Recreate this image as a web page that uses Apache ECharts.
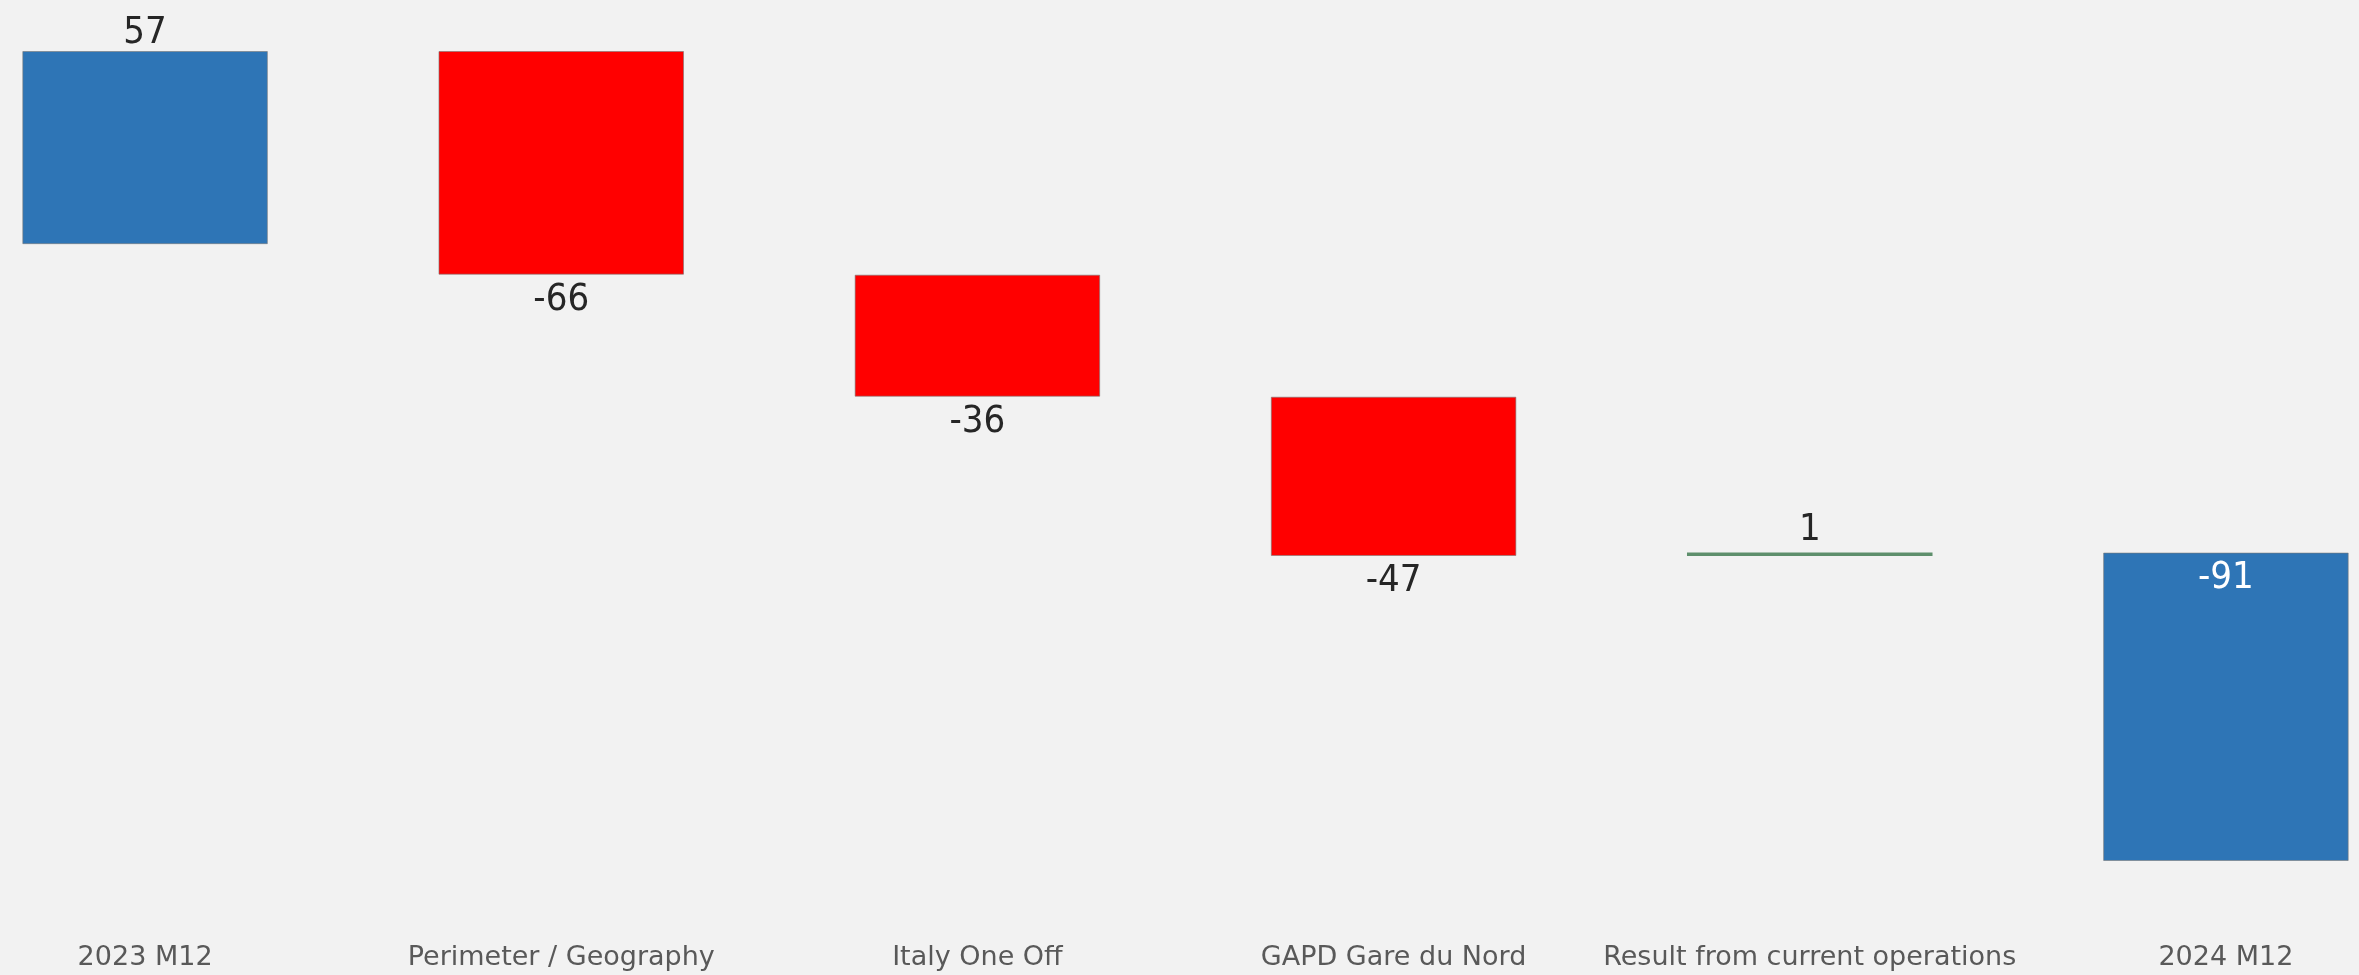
<!DOCTYPE html>
<html>
<head>
<meta charset="utf-8">
<script src="https://cdn.jsdelivr.net/npm/echarts@6/dist/echarts.min.js"></script>
<style>
html,body{margin:0;padding:0;background:#F2F2F2;overflow:hidden;width:2359px;height:975px;position:relative;}
#chart{width:2497px;height:975px;position:absolute;left:-63px;top:0;}
</style>
</head>
<body>
<div id="chart"></div>
<script>
const categories = ['2023 M12', 'Perimeter / Geography', 'Italy One Off', 'GAPD Gare du Nord', 'Result from current operations', '2024 M12'];
const deltas = [57, -66, -36, -47, 1, -91];
const kinds = ['total', 'delta', 'delta', 'delta', 'delta', 'total'];

const COLORS = { total: '#2E75B6', down: '#FF0000', up: '#5E8F6C' };

// running position (the final bar in the source is stacked on the running end)
let run = 0;
const bases = [], heights = [], lows = [], highs = [];
deltas.forEach(function (d) {
  const start = run, end = run + d;
  const lo = Math.min(start, end), hi = Math.max(start, end);
  bases.push(lo); heights.push(hi - lo); lows.push(lo); highs.push(hi);
  run = end;
});
const yMin = Math.min.apply(null, lows);
const yMax = Math.max.apply(null, highs);

const visible = deltas.map(function (d, i) {
  const last = i === deltas.length - 1;
  const first = i === 0;
  const color = kinds[i] === 'total' ? COLORS.total : (d < 0 ? COLORS.down : COLORS.up);
  return {
    value: heights[i],
    itemStyle: { color: color, borderColor: d === 1 ? color : 'rgba(120,120,120,0.6)', borderWidth: d === 1 ? 0 : 1 },
    label: {
      show: true,
      formatter: String(d),
      position: last ? 'insideTop' : (d < 0 ? 'bottom' : 'top'),
      color: last ? '#FFFFFF' : '#262626',
      distance: last ? 7 : (d < 0 ? 6 : (first ? -1 : 3))
    }
  };
});

const chart = echarts.init(document.getElementById('chart'), null, { renderer: 'canvas' });
chart.setOption({
  backgroundColor: '#F2F2F2',
  animation: false,
  grid: { left: 0, right: 0, top: 51, bottom: 114, containLabel: false },
  xAxis: {
    type: 'category',
    data: categories,
    axisLine: { show: false },
    axisTick: { show: false },
    axisLabel: {
      interval: 0,
      margin: 83,
      fontFamily: 'DejaVu Sans',
      fontSize: 27,
      color: '#595959'
    }
  },
  yAxis: {
    type: 'value',
    min: yMin,
    max: yMax,
    show: false,
    splitLine: { show: false }
  },
  series: [
    {
      type: 'bar',
      stack: 'wf',
      stackStrategy: 'all',
      barWidth: '59%',
      itemStyle: { color: 'transparent' },
      emphasis: { disabled: true },
      data: bases,
      silent: true
    },
    {
      type: 'bar',
      stack: 'wf',
      stackStrategy: 'all',
      barWidth: '59%',
      label: { fontFamily: "'DejaVu Sans Condensed', 'DejaVu Sans'", fontSize: 38 },
      data: visible
    }
  ]
});
</script>
</body>
</html>
